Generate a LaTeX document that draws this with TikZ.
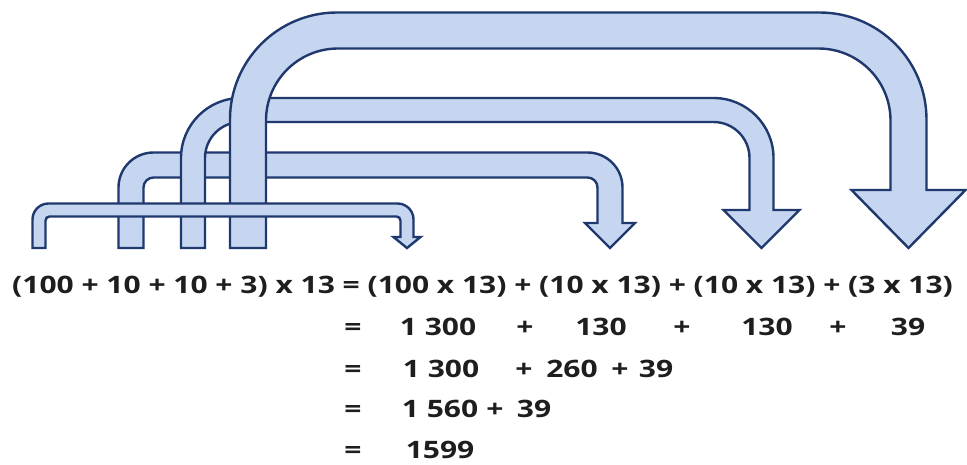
\documentclass[tikz,border=0pt]{standalone}
\usepackage{fontspec}
\setmainfont{Open Sans}[FakeStretch=1.25]
\definecolor{arrowfill}{RGB}{198,214,240}
\definecolor{arrowline}{RGB}{31,56,110}
\definecolor{txtcol}{RGB}{30,30,30}
\tikzset{
  arrowshape/.style={fill=arrowfill, draw=arrowline, line width=2.4pt, line join=miter},
  txt/.style={inner sep=0pt, anchor=base, text=txtcol, font=\bfseries\fontsize{24}{28}\selectfont}
}
% #1 L, #2 T, #3 R, #4 half width, #5 outer radius, #6 inner radius, #7 head half width, #8 head length
\newcommand{\bentarrow}[8]{%
  \pgfmathsetmacro{\baXo}{#1-#4}%
  \pgfmathsetmacro{\baYo}{#2-#4}%
  \pgfmathsetmacro{\baXr}{#3+#4}%
  \pgfmathsetmacro{\baXi}{#1+#4}%
  \pgfmathsetmacro{\baYi}{#2+#4}%
  \pgfmathsetmacro{\baXri}{#3-#4}%
  \pgfmathsetmacro{\baHb}{248-#8}%
  \pgfmathsetmacro{\baRo}{#5}%
  \pgfmathsetmacro{\baRi}{#6}%
  \draw[arrowshape] (\baXo,248) -- (\baXo,{\baYo+\baRo})
    .. controls (\baXo,{\baYo+0.4477*\baRo}) and ({\baXo+0.4477*\baRo},\baYo) .. ({\baXo+\baRo},\baYo)
    -- ({\baXr-\baRo},\baYo)
    .. controls ({\baXr-0.4477*\baRo},\baYo) and (\baXr,{\baYo+0.4477*\baRo}) .. (\baXr,{\baYo+\baRo})
    -- (\baXr,\baHb) -- ({#3+#7},\baHb) -- (#3,248) -- ({#3-#7},\baHb) -- (\baXri,\baHb)
    -- (\baXri,{\baYi+\baRi})
    .. controls (\baXri,{\baYi+0.4477*\baRi}) and ({\baXri-0.4477*\baRi},\baYi) .. ({\baXri-\baRi},\baYi)
    -- ({\baXi+\baRi},\baYi)
    .. controls ({\baXi+0.4477*\baRi},\baYi) and (\baXi,{\baYi+0.4477*\baRi}) .. (\baXi,{\baYi+\baRi})
    -- (\baXi,248) -- cycle;
}
\begin{document}
\begin{tikzpicture}[x=1pt, y=-1pt]
\useasboundingbox (0,0) rectangle (967,464);
\fill[white] (0,0) rectangle (967,464);
% arrows
\bentarrow{131}{165}{610}{12.5}{35}{10}{25}{25}
\bentarrow{193}{110}{761.5}{12}{60}{36}{38}{38}
\bentarrow{248}{30.5}{908.5}{18}{107}{72}{57}{58}
\bentarrow{39}{210}{407}{6.5}{16}{4}{13.5}{11}
% line 1
\node[txt, anchor=base west] (l1) at (12,293) {(100 + 10 + 10 + 3) x 13 = (100 x 13) + (10 x 13) + (10 x 13) + (3 x 13)};
% line 2
\node[txt] (e2) at (353,335) {=};
\node[txt] (a2) at (438,335) {1 300};
\node[txt] (p2a) at (525,335) {+};
\node[txt] (b2) at (601,335) {130};
\node[txt] (p2b) at (682,335) {+};
\node[txt] (c2) at (767,335) {130};
\node[txt] (p2c) at (838,335) {+};
\node[txt] (d2) at (908,335) {39};
% line 3
\node[txt] (e3) at (353,377) {=};
\node[txt] (a3) at (441,377) {1 300};
\node[txt] (p3a) at (524,377) {+};
\node[txt] (b3) at (572,377) {260};
\node[txt] (p3b) at (620,377) {+};
\node[txt] (c3) at (656,377) {39};
% line 4
\node[txt] (e4) at (353,417) {=};
\node[txt] (a4) at (440,417) {1 560};
\node[txt] (p4a) at (495,417) {+};
\node[txt] (b4) at (534,417) {39};
% line 5
\node[txt] (e5) at (353,458) {=};
\node[txt] (a5) at (440,458) {1599};
\end{tikzpicture}
\end{document}
